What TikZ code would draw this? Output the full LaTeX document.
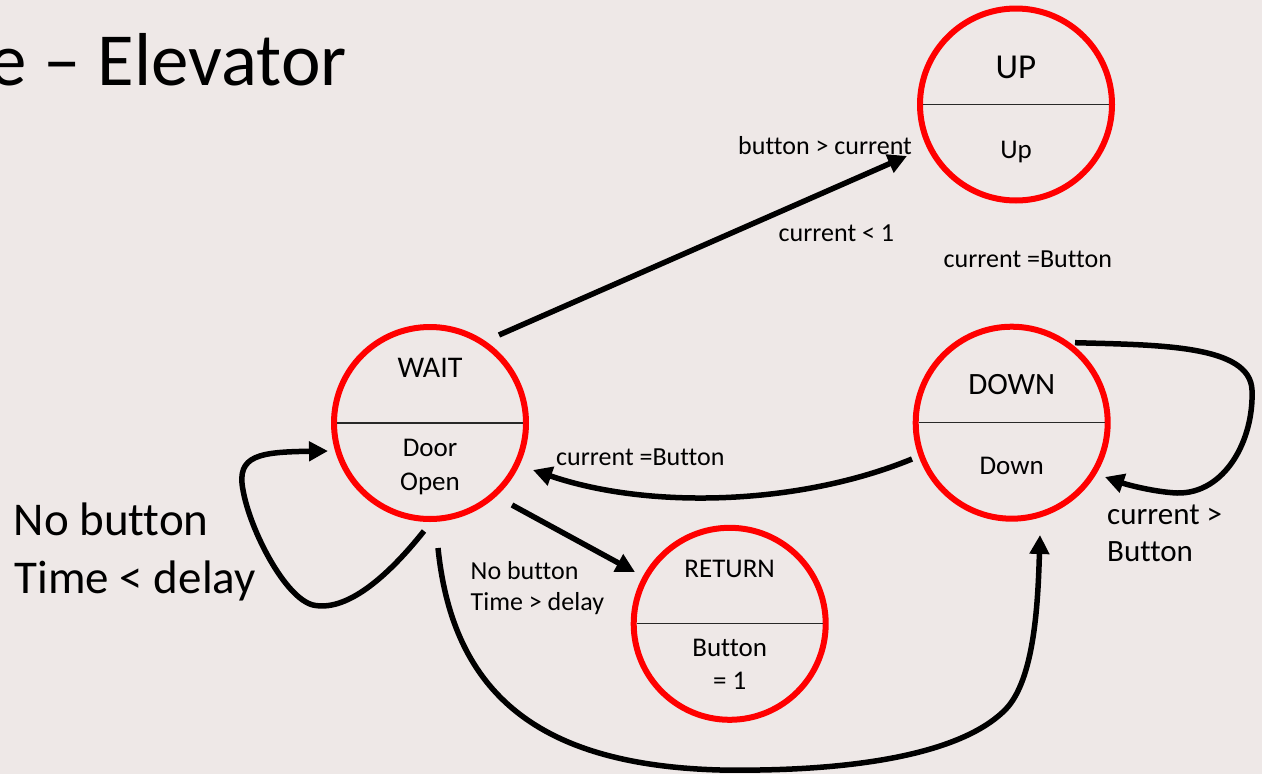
\documentclass[tikz,border=0pt]{standalone}
\usepackage{fontspec}
\setmainfont{Carlito}[Ligatures=CommonOff]
\usetikzlibrary{arrows.meta,calc}
\definecolor{bgcol}{RGB}{238,232,231}
\definecolor{ringred}{RGB}{255,0,0}
\definecolor{divcol}{RGB}{40,40,40}
\begin{document}
\begin{tikzpicture}[x=1pt,y=-1pt,
  state/.style={circle, draw=ringred, line width=6pt, minimum size=192pt, inner sep=0pt, outer sep=0pt},
  divider/.style={line width=1.2pt, draw=divcol, shorten <=2.8pt, shorten >=2.8pt},
  conn/.style={line width=5.5pt, draw=black, -{Triangle[length=19pt,width=19pt]}},
  txt/.style={inner sep=0pt, text=black},
  f26/.style={font=\fontsize{26}{31}\selectfont},
  f27/.style={font=\fontsize{27}{32}\selectfont},
  f30/.style={font=\fontsize{30}{36}\selectfont},
  f31/.style={font=\fontsize{31}{37}\selectfont},
  f35/.style={font=\fontsize{35}{42}\selectfont},
  f47/.style={font=\fontsize{47}{56}\selectfont},
  f75/.style={font=\fontsize{75}{90}\selectfont}]
\useasboundingbox (0,0) rectangle (1262,774);
\fill[bgcol] (0,0) rectangle (1262,774);
\clip (0,0) rectangle (1262,774);

% title
\node[txt, f75, anchor=base west] (title) at (-11,85) {e – Elevator};

% states
\node[state] (up) at (1016,104.5) {};
\node[state] (wait) at (430,423) {};
\node[state] (down) at (1011.7,422.7) {};
\node[state] (ret) at (729.7,623.8) {};

\draw[divider] (up.west) -- (up.east);
\draw[divider] (wait.west) -- (wait.east);
\draw[divider] (down.west) -- (down.east);
\draw[divider] (ret.west) -- (ret.east);

% state texts
\node[txt, f35, anchor=base] (upname) at (1016,78) {UP};
\node[txt, f27, anchor=base] (upout) at (1016,158) {Up};
\node[txt, f30, anchor=base] (waitname) at (430,377.3) {WAIT};
\node[txt, f27, anchor=base] (waitout1) at (430,456.7) {Door};
\node[txt, f27, anchor=base] (waitout2) at (430,490) {Open};
\node[txt, f31, anchor=base] (downname) at (1011.7,394) {DOWN};
\node[txt, f27, anchor=base] (downout) at (1011.7,474) {Down};
\node[txt, f27, anchor=base] (retname) at (729.7,577.7) {RETURN};
\node[txt, f27, anchor=base] (retout1) at (729.7,656) {Button};
\node[txt, f27, anchor=base] (retout2) at (729.7,689.3) {= 1};

% transition labels
\node[txt, f26, anchor=base west] (l1) at (738,154) {button > current};
\node[txt, f26, anchor=base west] (l2) at (778.5,241.7) {current < 1};
\node[txt, f26, anchor=base west] (l3) at (943.5,267.7) {current =Button};
\node[txt, f26, anchor=base west] (l4) at (556,465) {current =Button};
\node[txt, f26, anchor=base west] (l5a) at (470.5,579) {No button};
\node[txt, f26, anchor=base west] (l5b) at (470.5,610) {Time > delay};
\node[txt, f31, anchor=base west] (l6a) at (1107,524) {current >};
\node[txt, f31, anchor=base west] (l6b) at (1107,561.7) {Button};
\node[txt, f47, anchor=base west] (l7a) at (13.5,535) {No button};
\node[txt, f47, anchor=base west] (l7b) at (14.5,593.5) {Time < delay};

% connectors
\draw[conn] ($(wait.center)+(69,-88)$) -- ($(up.center)+(-109,51.5)$);
\draw[conn] ($(down.center)+(-99.7,36.3)$) .. controls (800,505) and (650,510) .. ($(wait.center)+(103,47)$);
\draw[conn] ($(wait.center)+(82,82)$) -- ($(ret.center)+(-94.7,-51.8)$);
\draw[conn] ($(wait.center)+(-6,108)$) .. controls (385,580) and (345,612) .. (313,605)
   .. controls (285,598) and (250,530) .. (243,490)
   .. controls (236,455) and (260,452) .. ($(wait.center)+(-102,28)$);
\draw[conn] ($(wait.center)+(8,125)$) .. controls (453,695) and (540,765) .. (720,770)
   .. controls (850,772) and (960,755) .. (1005,710)
   .. controls (1035,680) and (1038,600) .. ($(down.center)+(28.3,112.3)$);
\draw[conn] ($(down.center)+(63.3,-80)$) .. controls (1160,345) and (1250,345) .. (1252,390)
   .. controls (1254,440) and (1225,494) .. (1177,493)
   .. controls (1155,492) and (1128,485) .. ($(down.center)+(93.3,54.3)$);
\end{tikzpicture}
\end{document}
